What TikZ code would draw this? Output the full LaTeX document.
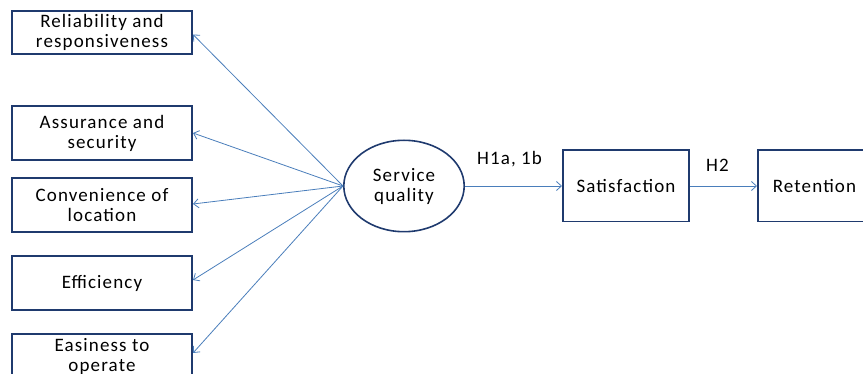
\documentclass[tikz,border=0pt]{standalone}
\usepackage{fontspec}
\setmainfont{Carlito}
\usepackage{xcolor}
\usetikzlibrary{shapes.geometric, arrows.meta, positioning}
\definecolor{navy}{HTML}{1F3A6E}
\definecolor{steel}{HTML}{4A7EBB}
\newcommand{\boxfont}{\fontsize{19}{20}\selectfont\addfontfeature{LetterSpace=6}}
\tikzset{
    block/.style={rectangle, draw=navy, line width=1.6pt, inner sep=1pt, align=center, minimum width=180.4pt, minimum height=54.4pt, font=\boxfont},
    construct/.style={ellipse, draw=navy, line width=1.6pt, align=center, minimum width=120.4pt, minimum height=91.4pt, font=\boxfont},
    arrow/.style={draw=steel, line width=0.8pt, -{Straight Barb[length=5pt, width=9pt]}},
    labelstyle/.style={font=\boxfont},
}

\begin{document}
\begin{tikzpicture}[x=1pt, y=1pt, node distance=20pt and 20pt]
    \useasboundingbox (0,0) rectangle (863,-374);

    % Nodes
    \node[construct] (quality) at (404,-186) {Service\\quality};
    \node[block, minimum height=43.4pt] (reliability) at (102,-32.5) {Reliability and\\responsiveness};
    \node[block, below=50pt of reliability] (assurance) {Assurance and\\security};
    \node[block, below=16pt of assurance] (convenience) {Convenience of\\location};
    \node[block, below=22pt of convenience] (efficiency) {Efficiency};
    \node[block, minimum height=45.4pt, below=22pt of efficiency] (easiness) {Easiness to\\operate};
    \node[block, minimum width=126.4pt, minimum height=71.4pt, right=97pt of quality] (satisfaction) {Satisfaction};
    \node[block, minimum width=112pt, minimum height=71.4pt, right=67pt of satisfaction, text width=100pt, align=left] (retention) {\hspace*{9pt}Retention};

    % Arrows
    \draw[arrow] (quality.west) -- ([yshift=-2pt]reliability.east);
    \draw[arrow] (quality.west) -- (assurance.east);
    \draw[arrow] (quality.west) -- ([yshift=1pt]convenience.east);
    \draw[arrow] (quality.west) -- ([yshift=3pt]efficiency.east);
    \draw[arrow] (quality.west) -- ([yshift=3.5pt]easiness.east);
    \draw[arrow] (quality.east) -- node[labelstyle, above=15pt, xshift=-4pt] {H1a, 1b} (quality.east -| satisfaction.west);
    \draw[arrow] (satisfaction.east) -- node[labelstyle, above=11pt, xshift=-6pt] {H2} (retention.west);

\end{tikzpicture}
\end{document}
